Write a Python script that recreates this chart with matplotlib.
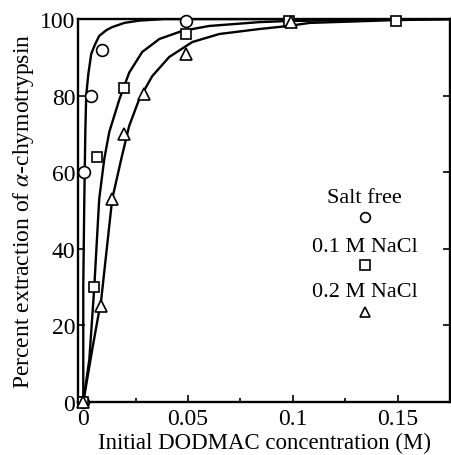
import matplotlib.pyplot as plt
from matplotlib.ticker import MultipleLocator

plt.rcParams['font.family'] = ['Liberation Serif', 'DejaVu Serif']
plt.rcParams['mathtext.fontset'] = 'stix'

# measured points
salt_x = [0.0, 0.0005, 0.0038, 0.009, 0.049]
salt_y = [0, 60, 80, 92, 99.5]
nacl1_x = [0.0, 0.005, 0.0067, 0.0196, 0.049, 0.098, 0.149]
nacl1_y = [0, 30, 64, 82, 96, 99.5, 99.5]
nacl2_x = [0.0, 0.0086, 0.0138, 0.0196, 0.029, 0.049, 0.099]
nacl2_y = [0, 25, 53, 70, 80.4, 91, 99.2]

# fitted curves
salt_cx = [0, 0.0, 0.0005, 0.001, 0.0014, 0.0024, 0.0038, 0.0057, 0.0076, 0.011, 0.0138, 0.0196, 0.0267, 0.0386, 0.175]
salt_cy = [0, 30, 53, 71, 80, 85.6, 90.9, 93.5, 95.6, 97.1, 97.9, 99.0, 99.6, 100, 100]
nacl1_cx = [0, 0.0029, 0.0052, 0.0076, 0.010, 0.0124, 0.0172, 0.0219, 0.0281, 0.0363, 0.0472, 0.0601, 0.084, 0.098, 0.147, 0.175]
nacl1_cy = [0, 11.2, 29.5, 53, 63.4, 70.5, 79, 86, 91.4, 94.8, 96.9, 98.2, 99.2, 99.5, 99.9, 100]
nacl2_cx = [0, 0.0043, 0.0086, 0.0138, 0.0181, 0.0219, 0.0267, 0.0329, 0.041, 0.052, 0.0649, 0.084, 0.098, 0.108, 0.147, 0.175]
nacl2_cy = [0, 13.8, 26.9, 53, 63.4, 72.1, 79.1, 85.1, 90.1, 94, 96.1, 97.4, 98.2, 99, 99.7, 100]

fig = plt.figure(figsize=(4.51, 4.56), dpi=100)
ax = fig.add_axes([0.173, 0.116, 0.825, 0.84])

lw = 1.7
ax.plot(salt_cx, salt_cy, color='black', lw=lw)
ax.plot(nacl1_cx, nacl1_cy, color='black', lw=lw)
ax.plot(nacl2_cx, nacl2_cy, color='black', lw=lw)

mk = dict(ls='none', mfc='white', mec='black', mew=1.2, clip_on=False, zorder=5)
ax.plot(salt_x, salt_y, marker='o', ms=8.5, **mk)
ax.plot(nacl1_x, nacl1_y, marker='s', ms=7.5, **mk)
ax.plot(nacl2_x, nacl2_y, marker='^', ms=8.5, **mk)

ax.set_xlim(-0.0025, 0.175)
ax.set_ylim(0, 100)
ax.xaxis.set_minor_locator(MultipleLocator(0.025))
ax.yaxis.set_major_locator(MultipleLocator(20))
ax.set_xticks([0, 0.05, 0.1, 0.15])
ax.set_xticklabels(['0', '0.05', '0.1', '0.15'])
ax.tick_params(which='both', direction='in', right=True, top=False, labelsize=17, width=1.2)
ax.tick_params(axis='x', pad=4)
ax.tick_params(axis='y', pad=2)
ax.tick_params(which='major', length=5)
ax.tick_params(which='minor', length=3)
for s in ax.spines.values():
    s.set_linewidth(1.7)

ax.set_xlabel('Initial DODMAC concentration (M)', fontsize=16.5, labelpad=2)
ax.set_ylabel(r'Percent extraction of $\alpha$-chymotrypsin', fontsize=17, labelpad=3)

# legend block
leg_labels = ['Salt free', '0.1 M NaCl', '0.2 M NaCl']
leg_marks = ['o', 's', '^']
leg_text_y = [0.535, 0.407, 0.29]
leg_mark_y = [0.483, 0.358, 0.235]
for lab, m, yt, ym in zip(leg_labels, leg_marks, leg_text_y, leg_mark_y):
    ax.text(0.77, yt, lab, transform=ax.transAxes, ha='center', va='center', fontsize=16)
    ax.plot([0.77], [ym], marker=m, ms=7, mfc='white', mec='black', mew=1.2,
            transform=ax.transAxes, clip_on=False)

fig.savefig('out.png', dpi=100)
